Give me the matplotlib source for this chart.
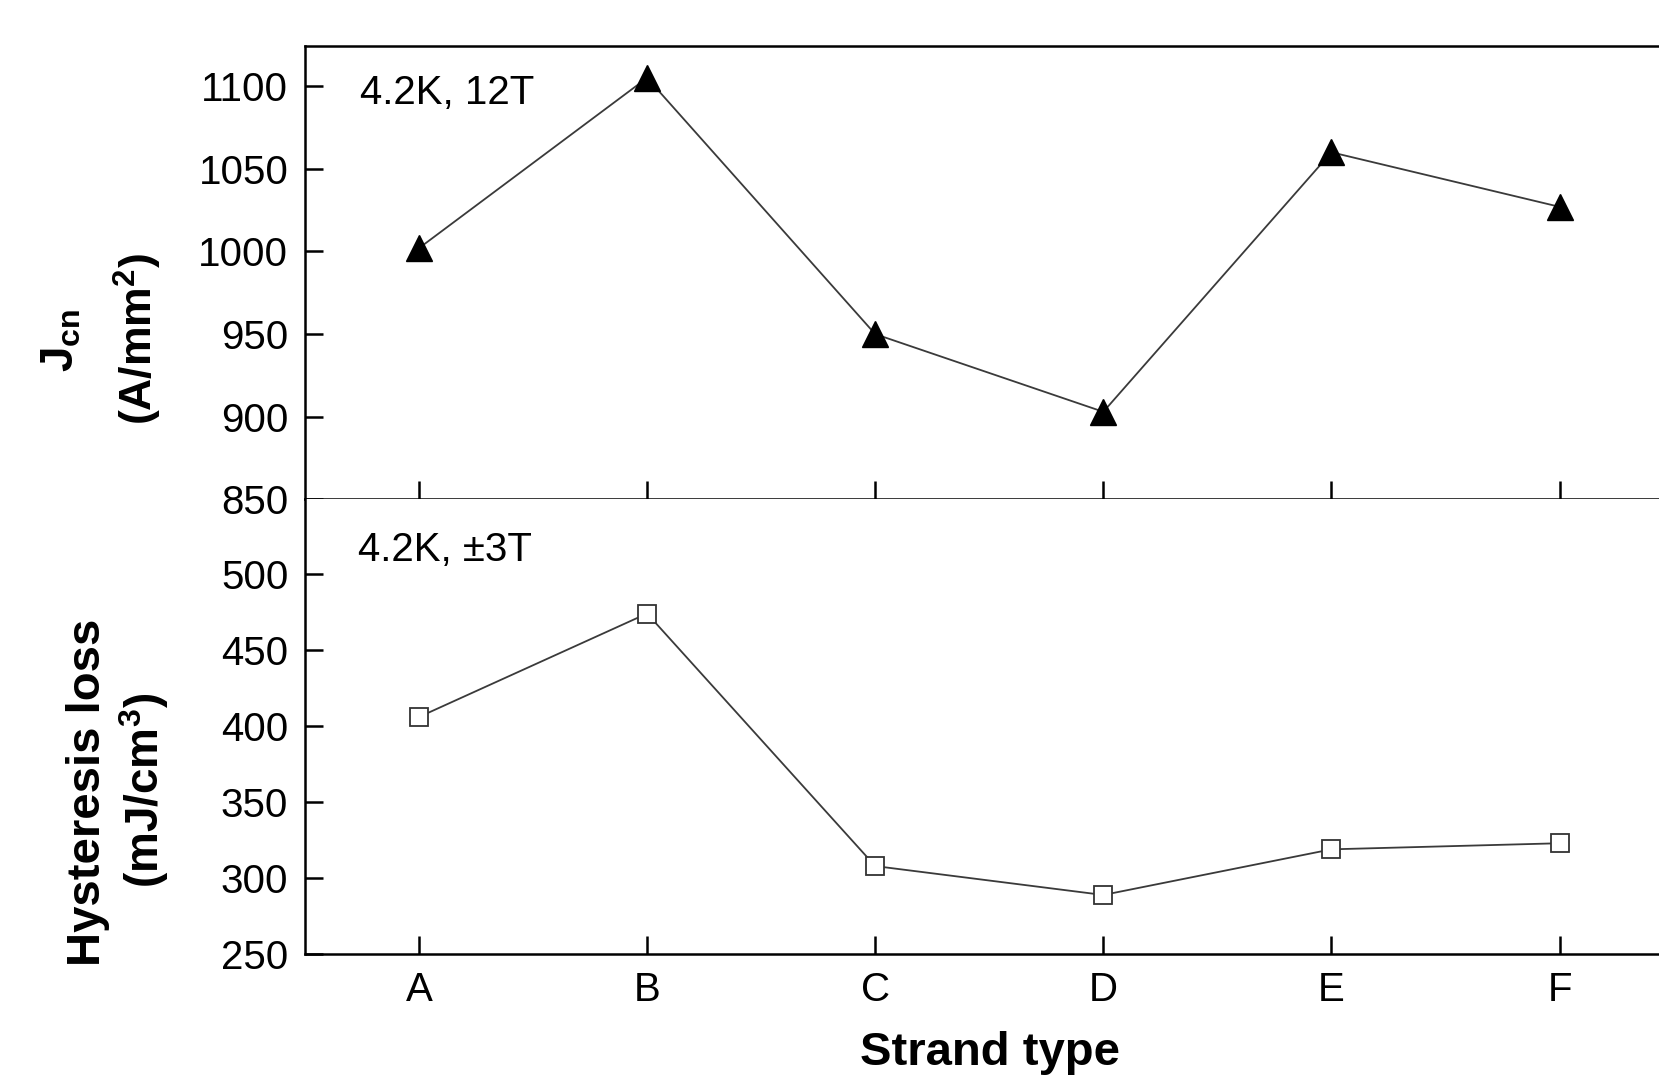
"""
Critical current density and hysteresis loss by strand type (two stacked panels).
"""

import matplotlib
matplotlib.use("Agg")
import matplotlib.pyplot as plt

plt.rcParams["font.family"] = ["Liberation Sans", "DejaVu Sans"]
plt.rcParams["mathtext.fontset"] = "custom"
plt.rcParams["mathtext.rm"] = "Liberation Sans:bold"
plt.rcParams["mathtext.it"] = "Liberation Sans:bold"
plt.rcParams["mathtext.bf"] = "Liberation Sans:bold"
plt.rcParams["mathtext.default"] = "rm"

# Data
strands = ["A", "B", "C", "D", "E", "F"]
jcn = [1002, 1105, 950, 903, 1060, 1027]
hyst_loss = [406, 474, 308, 289, 319, 323]
jcn_ticks = [850, 900, 950, 1000, 1050, 1100]
loss_ticks = [250, 300, 350, 400, 450, 500]

fig = plt.figure(figsize=(16.59, 10.81), dpi=100)
ax1 = fig.add_axes([0.1838, 0.538, 0.825, 0.419])
ax2 = fig.add_axes([0.1838, 0.1172, 0.825, 0.4208])

x = list(range(len(strands)))

ax1.plot(x, jcn, color="#3a3a3a", linewidth=1.3, marker="^", markersize=19,
         markerfacecolor="black", markeredgecolor="black")
ax2.plot(x, hyst_loss, color="#3a3a3a", linewidth=1.3, marker="s", markersize=13.5,
         markerfacecolor="white", markeredgecolor="#333333", markeredgewidth=1.3)

ax1.set_ylim(850, 1124)
ax2.set_ylim(250, 549)
for ax in (ax1, ax2):
    ax.set_xlim(-0.5, 5.5)
    ax.set_xticks(x)
    for s in ax.spines.values():
        s.set_linewidth(1.8)
    ax.tick_params(direction="in", length=13, width=1.8, labelsize=29, pad=12)
    ax.tick_params(axis="x", top=False)
    ax.tick_params(axis="y", right=False)

ax1.set_yticks(jcn_ticks)
ax2.set_yticks(loss_ticks)
ax1.set_xticklabels([])
ax2.set_xticklabels(strands)
ax2.spines["top"].set_visible(False)

ax1.text(0.04, 0.897, "4.2K, 12T", transform=ax1.transAxes, fontsize=29, va="center")
ax2.text(0.039, 0.888, "4.2K, \u00b13T", transform=ax2.transAxes, fontsize=29, va="center")

# axis titles
fig.text(0.037, 0.685, r"J$_{cn}$", rotation=90, fontsize=33, fontweight="bold",
         ha="center", va="center")
fig.text(0.083, 0.686, r"(A/mm$^2$)", rotation=90, fontsize=32, fontweight="bold",
         ha="center", va="center")
fig.text(0.053, 0.267, "Hysteresis loss", rotation=90, fontsize=34, fontweight="bold",
         ha="center", va="center")
fig.text(0.087, 0.269, r"(mJ/cm$^3$)", rotation=90, fontsize=33, fontweight="bold",
         ha="center", va="center")
fig.text(0.597, 0.006, "Strand type", fontsize=34, fontweight="bold",
         ha="center", va="bottom")

fig.savefig("out.png", dpi=100)
plt.close(fig)
